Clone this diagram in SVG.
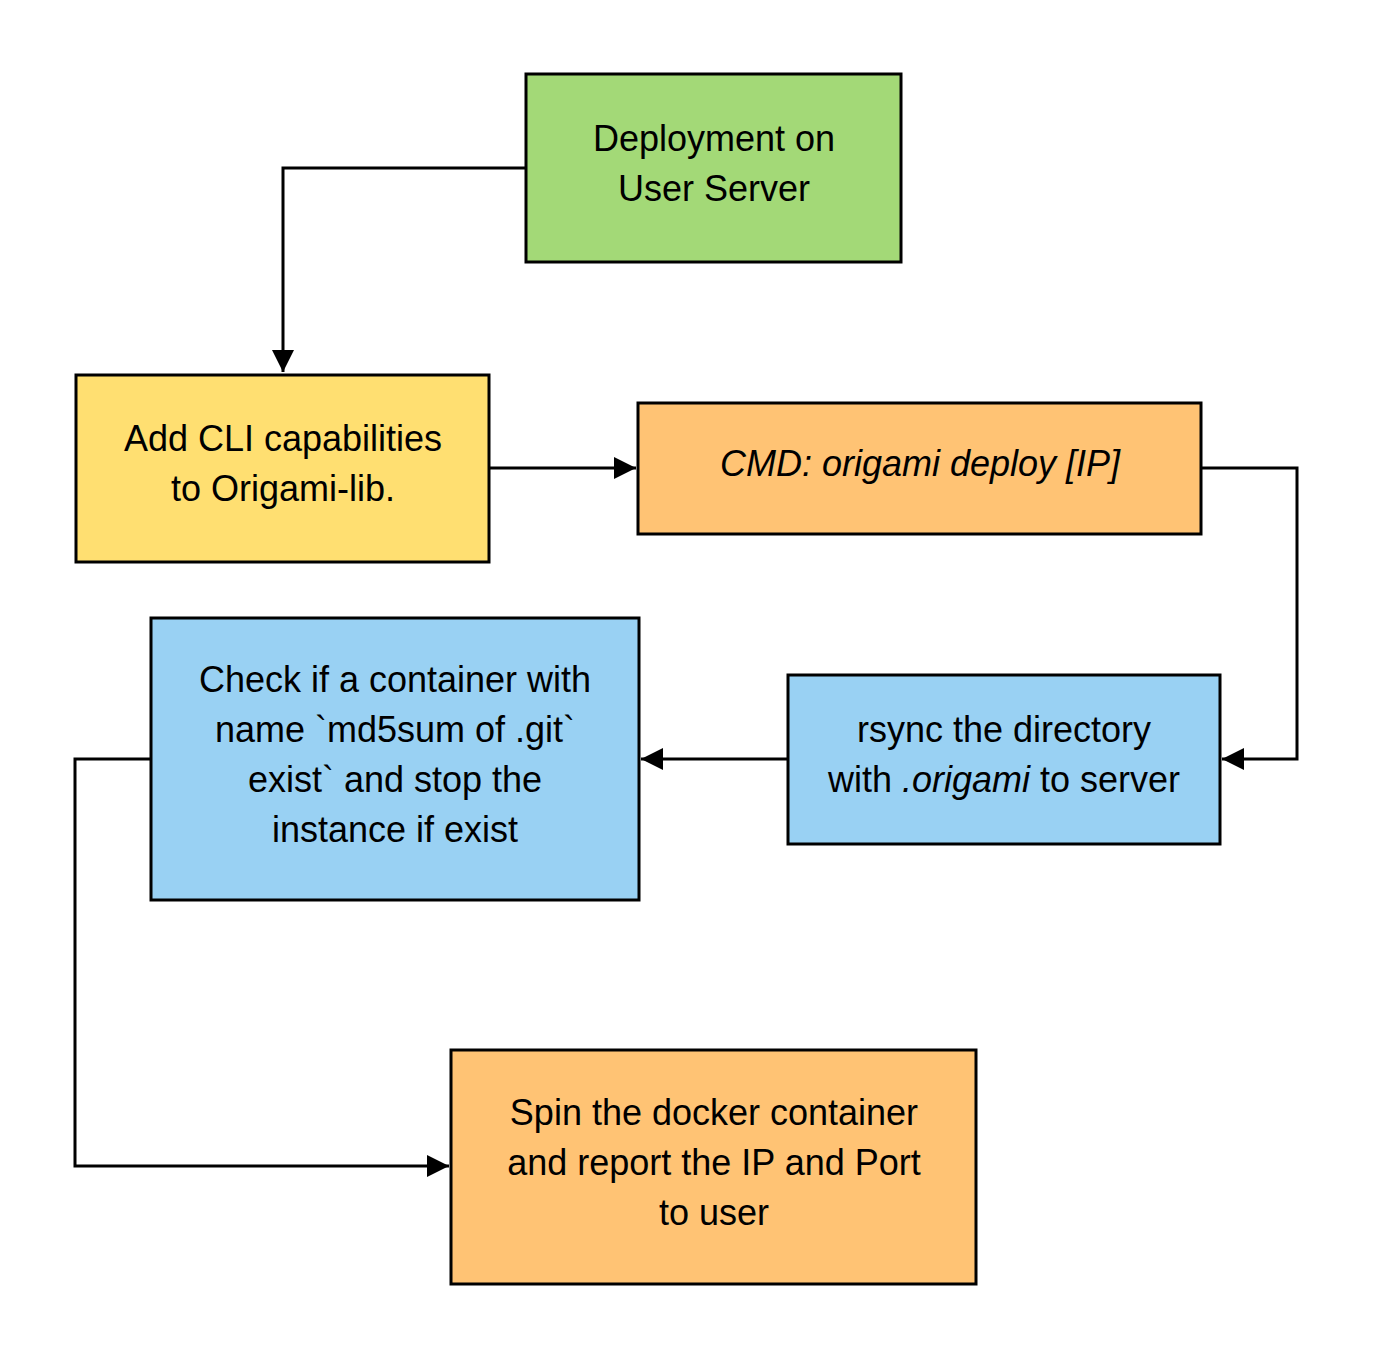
<svg xmlns="http://www.w3.org/2000/svg" width="1373" height="1359" viewBox="0 0 1373 1359">
<style>
.n{stroke:#000;stroke-width:3}
.t{font-family:"Liberation Sans",Arial,sans-serif;font-size:36px;text-anchor:middle;fill:#000}
.c{fill:none;stroke:#000;stroke-width:3}
</style>
<defs>
<marker id="a" markerUnits="userSpaceOnUse" markerWidth="24" markerHeight="22" refX="22" refY="11" orient="auto"><path d="M0,0 L22,11 L0,22 Z" fill="#000"/></marker>
</defs>
<rect width="1373" height="1359" fill="#fff"/>
<g id="connectors">
<path class="c" d="M526,168 H283 V372" marker-end="url(#a)"/>
<path class="c" d="M489,468 H636" marker-end="url(#a)"/>
<path class="c" d="M1201,468 H1297 V759 H1222" marker-end="url(#a)"/>
<path class="c" d="M788,759 H641" marker-end="url(#a)"/>
<path class="c" d="M151,759 H75 V1166 H449" marker-end="url(#a)"/>
</g>
<g id="deploy"><rect class="n" x="526" y="74" width="375" height="188" fill="#a3d977"/>
<text class="t" x="714" y="151">Deployment on</text><text class="t" x="714" y="201">User Server</text></g>
<g id="cli"><rect class="n" x="76" y="375" width="413" height="187" fill="#ffdf71"/>
<text class="t" x="283" y="451">Add CLI capabilities</text><text class="t" x="283" y="501">to Origami-lib.</text></g>
<g id="cmd"><rect class="n" x="638" y="403" width="563" height="131" fill="#ffc374"/>
<text class="t" x="920" y="476" font-style="italic">CMD: origami deploy [IP]</text></g>
<g id="rsync"><rect class="n" x="788" y="675" width="432" height="169" fill="#99d1f3"/>
<text class="t" x="1004" y="742">rsync the directory</text><text class="t" x="1004" y="792">with <tspan font-style="italic">.origami</tspan> to server</text></g>
<g id="check"><rect class="n" x="151" y="618" width="488" height="282" fill="#99d1f3"/>
<text class="t" x="395" y="692">Check if a container with</text><text class="t" x="395" y="742">name `md5sum of .git`</text><text class="t" x="395" y="792">exist` and stop the</text><text class="t" x="395" y="842">instance if exist</text></g>
<g id="spin"><rect class="n" x="451" y="1050" width="525" height="234" fill="#ffc374"/>
<text class="t" x="714" y="1125">Spin the docker container</text><text class="t" x="714" y="1175">and report the IP and Port</text><text class="t" x="714" y="1225">to user</text></g>
</svg>
